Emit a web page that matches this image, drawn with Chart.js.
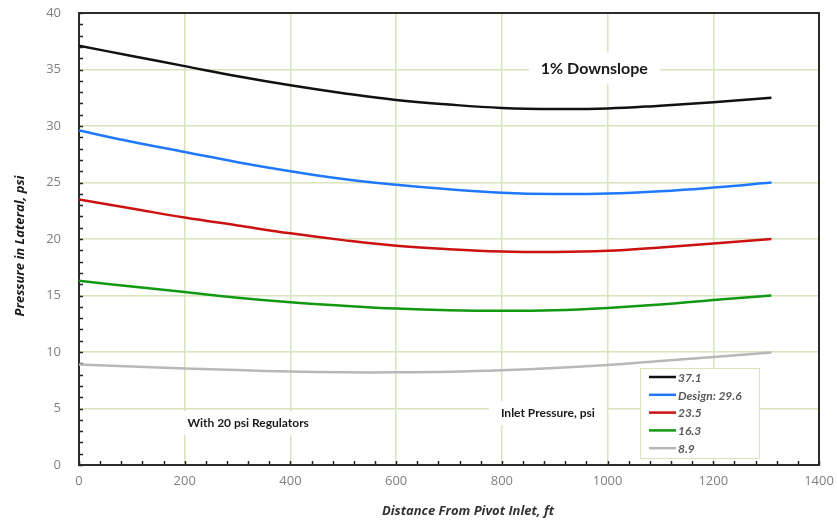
<!DOCTYPE html>
<html>
<head>
<meta charset="utf-8">
<script src="https://cdn.jsdelivr.net/npm/chart.js@4"></script>
<style>
  html, body { margin: 0; padding: 0; background: #fff; }
  #wrap { width: 837px; height: 523px; }
</style>
</head>
<body>
<div id="wrap"><canvas id="chart" width="837" height="523"></canvas></div>
<script>
// distance along lateral, ft
var distance = [0, 100, 200, 300, 400, 500, 600, 700, 800, 900, 1000, 1100, 1200, 1310];

// pressure in lateral, psi (one series per inlet pressure)
var p371 = [37.1, 36.2, 35.3, 34.4, 33.6, 32.9, 32.3, 31.9, 31.6, 31.5, 31.55, 31.8, 32.1, 32.5];
var p296 = [29.6, 28.6, 27.7, 26.8, 26.0, 25.3, 24.8, 24.4, 24.1, 23.98, 24.02, 24.22, 24.55, 25.0];
var p235 = [23.5, 22.7, 21.9, 21.2, 20.5, 19.9, 19.4, 19.1, 18.9, 18.85, 18.95, 19.25, 19.6, 20.0];
var p163 = [16.3, 15.8, 15.3, 14.8, 14.4, 14.1, 13.85, 13.7, 13.65, 13.7, 13.9, 14.2, 14.6, 15.0];
var p89  = [8.9, 8.72, 8.55, 8.4, 8.27, 8.2, 8.2, 8.25, 8.38, 8.58, 8.85, 9.2, 9.55, 9.95];

var seriesLabels = ["37.1", "Design: 29.6", "23.5", "16.3", "8.9"];
var seriesColors = ["#111111", "#1f78ff", "#cc1111", "#119911", "#b8b8b8"];

var xTicks = [0, 200, 400, 600, 800, 1000, 1200, 1400];
var yTicks = [0, 5, 10, 15, 20, 25, 30, 35, 40];

var notes = [
  { text: "1% Downslope", x: 975, y: 35.1, size: 16 },
  { text: "With 20 psi Regulators", x: 320, y: 3.7, size: 12 },
  { text: "Inlet Pressure, psi", x: 887, y: 4.6, size: 12 }
];

function toPoints(vals) {
  return vals.map(function(v, i) { return { x: distance[i], y: v }; });
}

var allSeries = [p371, p296, p235, p163, p89];
var datasets = allSeries.map(function(s, i) {
  return {
    label: seriesLabels[i],
    data: toPoints(s),
    borderColor: seriesColors[i],
    backgroundColor: seriesColors[i],
    borderWidth: 2.5,
    pointRadius: 0,
    tension: 0.4,
    fill: false
  };
});

var gridGreen = "#d8e4bc";

var extrasPlugin = {
  id: 'extras',
  beforeDatasetsDraw: function(chart) {
    var ctx = chart.ctx, a = chart.chartArea;
    var xs = chart.scales.x, ys = chart.scales.y;
    ctx.save();
    // minor ticks pointing inward
    ctx.strokeStyle = "#222";
    ctx.lineWidth = 1.5;
    ctx.beginPath();
    for (var v = 0; v <= 40; v += 1) {
      var py = Math.round(ys.getPixelForValue(v)) + 0.5;
      ctx.moveTo(a.left, py); ctx.lineTo(a.left + 4, py);
    }
    for (var d = 0; d <= 1400; d += 40) {
      var px = Math.round(xs.getPixelForValue(d)) + 0.5;
      ctx.moveTo(px, a.bottom); ctx.lineTo(px, a.bottom - 4);
    }
    ctx.stroke();
    // plot border
    ctx.strokeStyle = "#2b2b2b";
    ctx.lineWidth = 2;
    ctx.strokeRect(a.left, a.top, a.right - a.left, a.bottom - a.top);
    ctx.restore();
  },
  afterDatasetsDraw: function(chart) {
    var ctx = chart.ctx, a = chart.chartArea;
    var xs = chart.scales.x, ys = chart.scales.y;
    ctx.save();
    // text notes with white backing
    notes.forEach(function(n) {
      ctx.font = "bold " + n.size + "px Lato, 'Open Sans', sans-serif";
      var w = ctx.measureText(n.text).width;
      var cx = xs.getPixelForValue(n.x), cy = ys.getPixelForValue(n.y);
      ctx.fillStyle = "#fff";
      ctx.fillRect(cx - w / 2 - 12, cy - n.size, w + 24, n.size * 2);
      ctx.fillStyle = "#1a1a1a";
      ctx.textAlign = "center";
      ctx.textBaseline = "middle";
      ctx.fillText(n.text, cx, cy);
    });
    // legend box
    var lx = 640, ly = 368, lw = 119, lh = 90;
    ctx.fillStyle = "#fff";
    ctx.fillRect(lx, ly, lw, lh);
    ctx.strokeStyle = gridGreen;
    ctx.lineWidth = 1;
    ctx.strokeRect(lx + 0.5, ly + 0.5, lw, lh);
    ctx.font = "italic bold 12px Lato, 'Open Sans', sans-serif";
    ctx.textAlign = "left";
    ctx.textBaseline = "middle";
    chart.data.datasets.forEach(function(ds, i) {
      var yy = ly + 9 + i * 17.8;
      ctx.strokeStyle = ds.borderColor;
      ctx.lineWidth = 2.5;
      ctx.beginPath();
      ctx.moveTo(lx + 9, yy); ctx.lineTo(lx + 36, yy);
      ctx.stroke();
      ctx.fillStyle = "#595959";
      ctx.fillText(ds.label, lx + 38, yy + 1);
    });
    // axis titles
    ctx.fillStyle = "#333";
    ctx.font = "italic bold 13px 'Open Sans', sans-serif";
    ctx.textAlign = "center";
    ctx.fillText("Distance From Pivot Inlet, ft", 468, 511);
    ctx.translate(20, 246);
    ctx.rotate(-Math.PI / 2);
    ctx.fillStyle = "#1a1a1a";
    ctx.fillText("Pressure in Lateral, psi", 0, 0);
    ctx.restore();
  }
};

new Chart(document.getElementById("chart"), {
  type: 'line',
  data: { datasets: datasets },
  options: {
    responsive: false,
    animation: false,
    layout: { padding: { left: 0, top: 13, right: 18, bottom: 0 } },
    plugins: { legend: { display: false }, tooltip: { enabled: false } },
    scales: {
      x: {
        type: 'linear',
        min: 0, max: 1400,
        afterBuildTicks: function(s) { s.ticks = xTicks.map(function(v) { return { value: v }; }); },
        afterFit: function(s) { s.height = 58; s.paddingLeft = 0; s.paddingRight = 0; },
        grid: { color: gridGreen, lineWidth: 1.5, drawTicks: false },
        border: { display: false },
        ticks: {
          color: "#808080", font: { family: "'Open Sans'", size: 13 }, padding: 8,
          callback: function(v) { return String(v); }
        }
      },
      y: {
        min: 0, max: 40,
        afterBuildTicks: function(s) { s.ticks = yTicks.map(function(v) { return { value: v }; }); },
        afterFit: function(s) { s.width = 79; s.paddingTop = 0; s.paddingBottom = 0; },
        grid: { color: gridGreen, lineWidth: 1.5, drawTicks: false },
        border: { display: false },
        ticks: { color: "#808080", font: { family: "'Open Sans'", size: 13 }, padding: 18 }
      }
    }
  },
  plugins: [extrasPlugin]
});
</script>
</body>
</html>
